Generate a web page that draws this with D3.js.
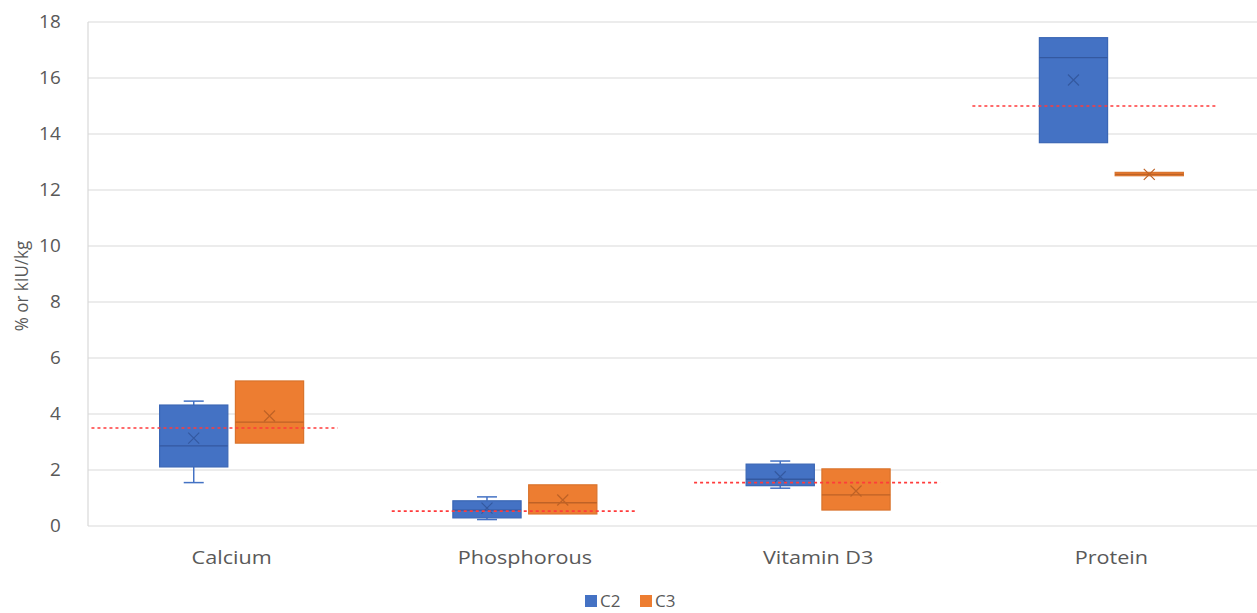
<!DOCTYPE html>
<html>
<head>
<meta charset="utf-8">
<script src="https://cdn.jsdelivr.net/npm/d3@7"></script>
<style>
  html, body { margin: 0; padding: 0; background: #ffffff; }
  svg { display: block; }
  text { font-family: "Open Sans", "Liberation Sans", sans-serif; }
</style>
</head>
<body>
<svg id="chart" width="1257" height="613"></svg>
<script>
// ---- data ----
const categories = ["Calcium", "Phosphorous", "Vitamin D3", "Protein"];
const series = ["C2", "C3"];
const yTicks = [0, 2, 4, 6, 8, 10, 12, 14, 16, 18];

const c2Min    = [1.55, 0.23, 1.35, 13.69];
const c2Q1     = [2.11, 0.29, 1.44, 13.69];
const c2Median = [2.86, 0.57, 1.67, 16.73];
const c2Q3     = [4.32, 0.90, 2.21, 17.44];
const c2Max    = [4.46, 1.04, 2.32, 17.44];
const c2Mean   = [3.14, 0.64, 1.76, 15.93];

const c3Min    = [2.96, 0.43, 0.57, 12.51];
const c3Q1     = [2.96, 0.43, 0.57, 12.51];
const c3Median = [3.71, 0.83, 1.11, 12.56];
const c3Q3     = [5.18, 1.47, 2.04, 12.63];
const c3Max    = [5.18, 1.47, 2.04, 12.63];
const c3Mean   = [3.93, 0.93, 1.25, 12.56];

const refValues = [3.5, 0.53, 1.55, 15.0];

// ---- layout / style (not data) ----
const W = 1257, H = 613;
const plotLeft = 85, plotRight = 1258, gridLeft = 88;
const yTop = 22, yBottom = 526;
const refSpanStart = [-0.478, -0.454, -0.423, -0.474];
const refSpanEnd   = [ 0.362,  0.382,  0.416,  0.362];
const fills   = { C2: "#4472C4", C3: "#ED7D31" };
const strokes = { C2: "#3A66B5", C3: "#D9732C" };
const darks   = { C2: "#3459A0", C3: "#BE6226" };
const textColor = "#595959";

const svg = d3.select("#chart");

const x = d3.scaleBand().domain(categories).range([plotLeft, plotRight]);
const bw = x.bandwidth();
const xSub = d3.scaleBand().domain(series).range([bw / 2 - 72, bw / 2 + 72]).paddingInner(0.1);
const y = d3.scaleLinear().domain([0, 18]).range([yBottom, yTop]);

// gridlines
svg.append("g").selectAll("line").data(yTicks).join("line")
  .attr("x1", gridLeft).attr("x2", W)
  .attr("y1", d => y(d)).attr("y2", d => y(d))
  .attr("stroke", "#d9d9d9").attr("stroke-width", 1.2);

// vertical axis line
svg.append("line").attr("x1", gridLeft).attr("x2", gridLeft)
  .attr("y1", y(18)).attr("y2", y(0))
  .attr("stroke", "#d9d9d9").attr("stroke-width", 1.2);

// y axis
const yAxis = svg.append("g").attr("transform", `translate(${gridLeft},0)`)
  .call(d3.axisLeft(y).tickValues(yTicks).tickSize(0).tickPadding(26));
yAxis.select(".domain").remove();
yAxis.selectAll("text").attr("font-size", 18).attr("fill", textColor)
  .attr("font-family", "'Open Sans', 'Liberation Sans', sans-serif")
  .attr("transform", "scale(1.05,1)");

// x axis labels
const xAxis = svg.append("g").attr("transform", `translate(0,${yBottom})`)
  .call(d3.axisBottom(x).tickSize(0).tickPadding(0));
xAxis.select(".domain").remove();
xAxis.selectAll("text").attr("font-size", 18).attr("fill", textColor)
  .attr("font-family", "'Open Sans', 'Liberation Sans', sans-serif")
  .attr("y", 0).attr("dy", 0)
  .attr("transform", "translate(0,38) scale(1.2,1)");

// y title
svg.append("text")
  .attr("transform", `translate(28,286) rotate(-90) scale(1,1.1)`)
  .attr("text-anchor", "middle")
  .attr("font-size", 17).attr("fill", textColor)
  .text("% or kIU/kg");

// build box records
const stats = {
  C2: { min: c2Min, q1: c2Q1, med: c2Median, q3: c2Q3, max: c2Max, mean: c2Mean },
  C3: { min: c3Min, q1: c3Q1, med: c3Median, q3: c3Q3, max: c3Max, mean: c3Mean }
};
const boxes = [];
categories.forEach((c, i) => {
  series.forEach(s => {
    const st = stats[s];
    boxes.push({ cat: c, s, min: st.min[i], q1: st.q1[i], med: st.med[i], q3: st.q3[i], max: st.max[i], mean: st.mean[i] });
  });
});

const g = svg.append("g");
boxes.forEach(b => {
  const x0 = x(b.cat) + xSub(b.s);
  const w = xSub.bandwidth();
  const cx = x0 + w / 2;
  const capW = 20;
  if (b.max > b.q3) {
    g.append("line").attr("x1", cx).attr("x2", cx).attr("y1", y(b.max)).attr("y2", y(b.q3))
      .attr("stroke", fills[b.s]).attr("stroke-width", 1.5);
    g.append("line").attr("x1", cx - capW / 2).attr("x2", cx + capW / 2).attr("y1", y(b.max)).attr("y2", y(b.max))
      .attr("stroke", fills[b.s]).attr("stroke-width", 1.5);
  }
  if (b.min < b.q1) {
    g.append("line").attr("x1", cx).attr("x2", cx).attr("y1", y(b.q1)).attr("y2", y(b.min))
      .attr("stroke", fills[b.s]).attr("stroke-width", 1.5);
    g.append("line").attr("x1", cx - capW / 2).attr("x2", cx + capW / 2).attr("y1", y(b.min)).attr("y2", y(b.min))
      .attr("stroke", fills[b.s]).attr("stroke-width", 1.5);
  }
  g.append("rect").attr("x", x0).attr("width", w)
    .attr("y", y(b.q3)).attr("height", Math.max(1, y(b.q1) - y(b.q3)))
    .attr("fill", fills[b.s]).attr("stroke", strokes[b.s]).attr("stroke-width", 1.2);
  g.append("line").attr("x1", x0).attr("x2", x0 + w).attr("y1", y(b.med)).attr("y2", y(b.med))
    .attr("stroke", darks[b.s]).attr("stroke-width", 1.3);
  const m = 5.5, my = y(b.mean);
  g.append("path")
    .attr("d", `M${cx - m},${my - m}L${cx + m},${my + m}M${cx - m},${my + m}L${cx + m},${my - m}`)
    .attr("stroke", darks[b.s]).attr("stroke-width", 1.2).attr("fill", "none");
});

// reference dashed lines
svg.append("g").selectAll("line").data(refValues).join("line")
  .attr("x1", (d, i) => x(categories[i]) + bw / 2 + refSpanStart[i] * bw)
  .attr("x2", (d, i) => x(categories[i]) + bw / 2 + refSpanEnd[i] * bw)
  .attr("y1", d => y(d)).attr("y2", d => y(d))
  .attr("stroke", "#FF3B3B").attr("stroke-width", 1.6)
  .attr("stroke-dasharray", "3,3");

// legend
const legend = svg.append("g").attr("transform", "translate(585,595)");
series.forEach((s, i) => {
  const lg = legend.append("g").attr("transform", `translate(${i * 55},0)`);
  lg.append("rect").attr("width", 12).attr("height", 12).attr("fill", fills[s]);
  lg.append("text").attr("x", 15).attr("y", 12).attr("font-size", 17).attr("fill", textColor)
    .text(s);
});
</script>
</body>
</html>
